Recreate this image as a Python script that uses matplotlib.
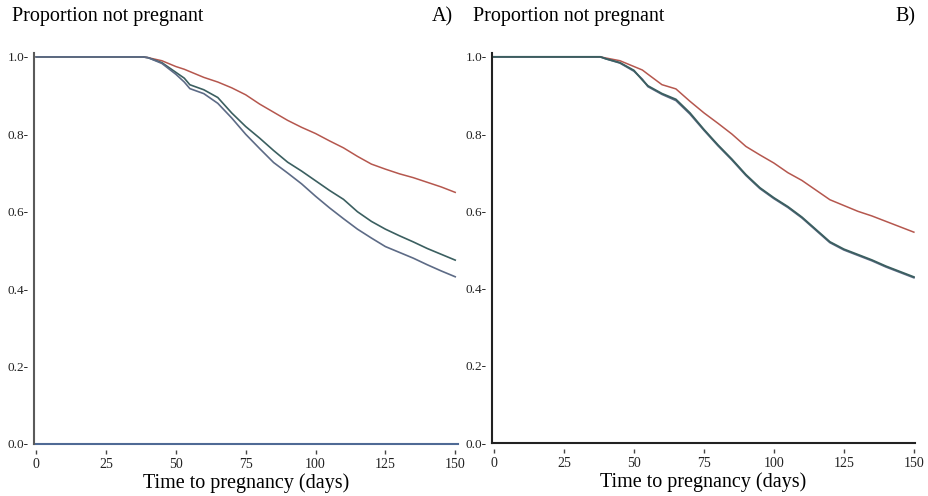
import matplotlib
matplotlib.use("Agg")
import matplotlib.pyplot as plt

plt.rcParams['font.family'] = ['Liberation Serif', 'DejaVu Serif']

# Kaplan-Meier style survival estimates (proportion not pregnant by day)
days = [0, 38, 40, 45, 50, 53, 55, 60, 65, 70, 75, 80, 85, 90, 95, 100,
        105, 110, 115, 120, 125, 130, 135, 140, 145, 150]

a_red = [1.0, 1.0, 0.998, 0.99, 0.975, 0.968, 0.962, 0.947, 0.935, 0.92, 0.902,
         0.878, 0.857, 0.836, 0.818, 0.802, 0.783, 0.765, 0.743, 0.723,
         0.710, 0.698, 0.688, 0.676, 0.664, 0.650]
a_teal = [1.0, 1.0, 0.998, 0.985, 0.96, 0.945, 0.928, 0.915, 0.895, 0.855, 0.82,
          0.79, 0.758, 0.728, 0.705, 0.68, 0.655, 0.632, 0.60, 0.575,
          0.555, 0.538, 0.522, 0.505, 0.49, 0.475]
a_slate = [1.0, 1.0, 0.998, 0.983, 0.955, 0.935, 0.918, 0.905, 0.88, 0.842, 0.80,
           0.763, 0.727, 0.70, 0.672, 0.64, 0.61, 0.582, 0.555, 0.532,
           0.51, 0.495, 0.48, 0.463, 0.447, 0.432]

b_red = [1.0, 1.0, 0.997, 0.99, 0.975, 0.966, 0.955, 0.928, 0.917, 0.885, 0.855,
         0.828, 0.80, 0.768, 0.746, 0.725, 0.70, 0.68, 0.655, 0.63,
         0.615, 0.60, 0.588, 0.574, 0.56, 0.546]
b_teal = [1.0, 1.0, 0.995, 0.985, 0.965, 0.94, 0.925, 0.905, 0.89, 0.855, 0.812,
          0.772, 0.735, 0.695, 0.661, 0.635, 0.612, 0.585, 0.553, 0.521,
          0.502, 0.488, 0.474, 0.458, 0.444, 0.430]
b_slate = [1.0, 1.0, 0.995, 0.984, 0.963, 0.942, 0.923, 0.903, 0.887, 0.852, 0.810,
           0.770, 0.733, 0.693, 0.659, 0.633, 0.610, 0.583, 0.551, 0.519,
           0.500, 0.486, 0.472, 0.456, 0.442, 0.428]

x_ticks = [0, 25, 50, 75, 100, 125, 150]
y_ticks = [0.0, 0.2, 0.4, 0.6, 0.8, 1.0]
y_tick_labels = ["0.0-", "0.2-", "0.4-", "0.6-", "0.8-", "1.0-"]
panel_letters = ["A)", "B)"]

RED = "#b5574e"
TEAL = "#3b5f60"
SLATE = "#5d6b86"

W, H = 929, 496
fig = plt.figure(figsize=(W / 100, H / 100), dpi=100)


def px_axes(left, right, top, bottom):
    return fig.add_axes([left / W, (H - bottom) / H, (right - left) / W, (bottom - top) / H])


axA = px_axes(34, 458, 53, 444)
axB = px_axes(492, 915, 53, 443)

panels = [
    (axA, [(a_red, RED, 1.1), (a_teal, TEAL, 1.2), (a_slate, SLATE, 1.2)], "#4f6a95", "#5a5a5a", (-0.8, 151)),
    (axB, [(b_red, RED, 1.1), (b_slate, SLATE, 1.3), (b_teal, TEAL, 1.3)], "#222222", "#222222", (-0.7, 150.4)),
]

for i, (ax, series, base_col, spine_col, xlim) in enumerate(panels):
    for vals, col, lw in series:
        ax.plot(days, vals, color=col, lw=lw, solid_joinstyle='round')
    ax.set_xlim(*xlim)
    ax.set_ylim(0, 1.01)
    for s in ("top", "right"):
        ax.spines[s].set_visible(False)
    ax.spines["left"].set_color(spine_col)
    ax.spines["left"].set_linewidth(1.5)
    # baseline drawn separately so the tick marks can sit just below it
    ax.spines["bottom"].set_position(("outward", 4))
    ax.spines["bottom"].set_visible(False)
    ax.axhline(0, color=base_col, lw=1.5, clip_on=False)

    ax.set_xticks(x_ticks)
    ax.set_xticklabels([str(t) for t in x_ticks], fontsize=10, color="#222222")
    ax.tick_params(axis="x", direction="out", length=3, width=1.0, color="#444444", pad=3)
    ax.set_yticks(y_ticks)
    ax.set_yticklabels(y_tick_labels, fontsize=9.5, color="#222222")
    ax.tick_params(axis="y", length=0, pad=4)

    ax.set_xlabel("Time to pregnancy (days)", fontsize=14.5, labelpad=2)

    left_px = 12 if i == 0 else 473
    right_px = 453 if i == 0 else 915
    fig.text(left_px / W, 1 - 17 / H, "Proportion not pregnant", fontsize=14.5,
             ha="left", va="center")
    fig.text(right_px / W, 1 - 17 / H, panel_letters[i], fontsize=14.5,
             ha="right", va="center")

fig.savefig("out.png", dpi=100, facecolor="white")
